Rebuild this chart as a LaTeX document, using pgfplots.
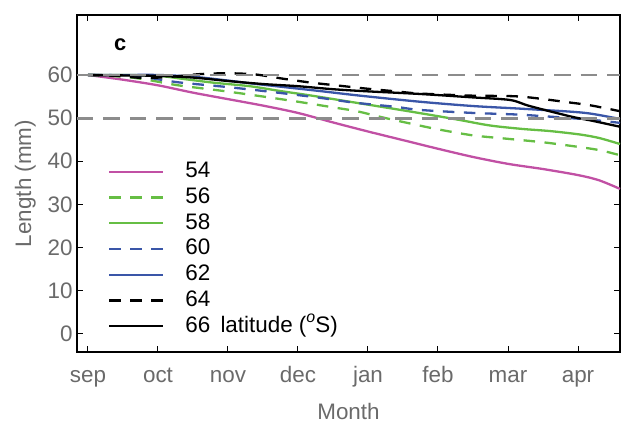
\documentclass[border=0pt]{standalone}
\usepackage{pgfplots}
\pgfplotsset{compat=1.18}
\usepackage{fontspec}
\setmainfont{Liberation Sans}
\definecolor{cMag}{HTML}{C150A4}
\definecolor{cGrn}{HTML}{66BE44}
\definecolor{cBlu}{HTML}{3A56A8}
\definecolor{cTick}{HTML}{6A6A6A}
\definecolor{cRef}{HTML}{8C8C8C}
\begin{document}
\begin{tikzpicture}
\begin{axis}[
  name=ax,
  scale only axis, width=543bp, height=337bp,
  xmin=-0.157, xmax=7.6, ymin=-4.2, ymax=73.9,
  xtick={0,1,2,3,4,5,6,7},
  xticklabels={sep,oct,nov,dec,jan,feb,mar,apr},
  ytick={0,10,20,30,40,50,60},
  tick align=inside, major tick length=6bp,
  tick style={black, line width=1bp},
  axis line style={line width=2bp},
  /pgf/number format/assume math mode=true,
  tick label style={font=\fontsize{22.5}{26}\selectfont, text=cTick},
  xticklabel style={anchor=base, yshift=-30bp},
  yticklabel style={xshift=-1bp},
  xlabel={Month}, ylabel={Length (mm)},
  label style={font=\fontsize{22.5}{26}\selectfont, text=cTick},
  xlabel style={at={(rel axis cs:0.5,0)}, anchor=base, yshift=-67bp},
  ylabel style={yshift=5bp},
  legend cell align=left,
  legend style={draw=none, fill=none, at={(axis cs:0.243,40.6)}, anchor=north west,
    font=\fontsize{22.5}{26}\selectfont, row sep=3.7bp,
    nodes={inner sep=0pt, text height=17bp, text depth=5bp}},
  legend image code/.code={\draw[#1] (0bp,0bp) -- (54bp,0bp); \path (75bp,0bp);},
  clip=false,
]
\addplot[cMag, line width=2.3bp, smooth] coordinates {
(0,60) (0.5,58.9) (1,57.6) (1.5,55.9) (2,54.4) (2.5,52.9) (3,51.2) (3.5,49.0) (4,46.9) (4.5,44.9) (5,42.9) (5.5,41.0) (6,39.4) (6.5,38.2) (7,36.8) (7.3,35.6) (7.6,33.6)};
\addlegendentry{54}
\addplot[cGrn, line width=2.3bp, smooth, dash pattern=on 11.5bp off 9.5bp] coordinates {
(0,60) (0.5,59.6) (0.84,58.9) (1.29,57.6) (1.93,56.3) (2.5,55.0) (3.0,53.8) (3.5,52.5) (3.84,51.6) (4.2,50.2) (4.56,48.9) (5.0,47.4) (5.5,46.0) (6.0,45.2) (6.5,44.4) (6.93,43.5) (7.3,42.6) (7.6,41.4)};
\addlegendentry{56}
\addplot[cGrn, line width=2.3bp, smooth] coordinates {
(0,60) (0.5,60) (1,59.8) (1.4,59.0) (1.8,58.2) (2.31,57.4) (2.74,56.3) (3.2,55.2) (3.7,53.9) (4.2,52.6) (4.8,51.0) (5.3,49.6) (5.74,48.3) (6.2,47.5) (6.6,47.0) (7.03,46.2) (7.3,45.4) (7.6,44.0)};
\addlegendentry{58}
\addplot[cBlu, line width=2.3bp, smooth, dash pattern=on 11.5bp off 9.5bp] coordinates {
(0,60) (0.5,59.9) (0.84,59.4) (1.29,58.3) (1.93,57.3) (2.5,56.3) (3.27,54.8) (3.8,53.6) (4.4,52.6) (4.74,51.9) (5.5,51.2) (6.17,50.8) (6.89,50.0) (7.2,49.6) (7.6,48.9)};
\addlegendentry{60}
\addplot[cBlu, line width=2.3bp, smooth] coordinates {
(0,60) (0.5,60) (1,60) (1.5,59.6) (2,58.7) (2.3,58.1) (2.74,57.3) (3.3,56.3) (3.89,55.2) (4.74,53.8) (5.5,52.8) (6.17,52.2) (6.89,51.5) (7.2,51.0) (7.6,49.8)};
\addlegendentry{62}
\addplot[black, line width=2.3bp, smooth, dash pattern=on 11.5bp off 9.5bp] coordinates {
(0,60) (0.4,59.8) (0.8,59.3) (1.2,59.6) (1.6,60.2) (2.0,60.4) (2.4,60.1) (2.8,59.1) (3.2,58.2) (3.6,57.5) (4.0,56.8) (4.4,56.2) (4.74,55.7) (5.5,55.2) (6.17,55.0) (6.89,53.6) (7.2,52.9) (7.6,51.6)};
\addlegendentry{64}
\addplot[black, line width=2.3bp, smooth] coordinates {
(0,60) (0.5,59.9) (1,59.8) (1.5,59.4) (2,58.6) (2.5,57.9) (3,57.4) (3.5,56.7) (4,56.2) (4.74,55.6) (5.5,54.8) (6.03,54.2) (6.31,52.8) (6.89,50.4) (7.2,49.4) (7.6,48.0)};
\addlegendentry{66\hspace{0.45em}latitude (\raisebox{0.42em}{\fontsize{16}{16}\selectfont\itshape o}S)}
\addplot[cRef, line width=2.8bp, dash pattern=on 16.5bp off 10bp, forget plot] coordinates {(-0.157,60) (7.6,60)};
\addplot[cRef, line width=2.8bp, dash pattern=on 16.5bp off 10bp, forget plot] coordinates {(-0.157,50) (7.6,50)};
\node[font=\bfseries\fontsize{22}{26}\selectfont] at (axis cs:0.46,67) {c};
\end{axis}
\pgfresetboundingbox
\path ([shift={(-77bp,-74bp)}]ax.south west) rectangle ([shift={(1bp,15bp)}]ax.north east);
\end{tikzpicture}
\end{document}
